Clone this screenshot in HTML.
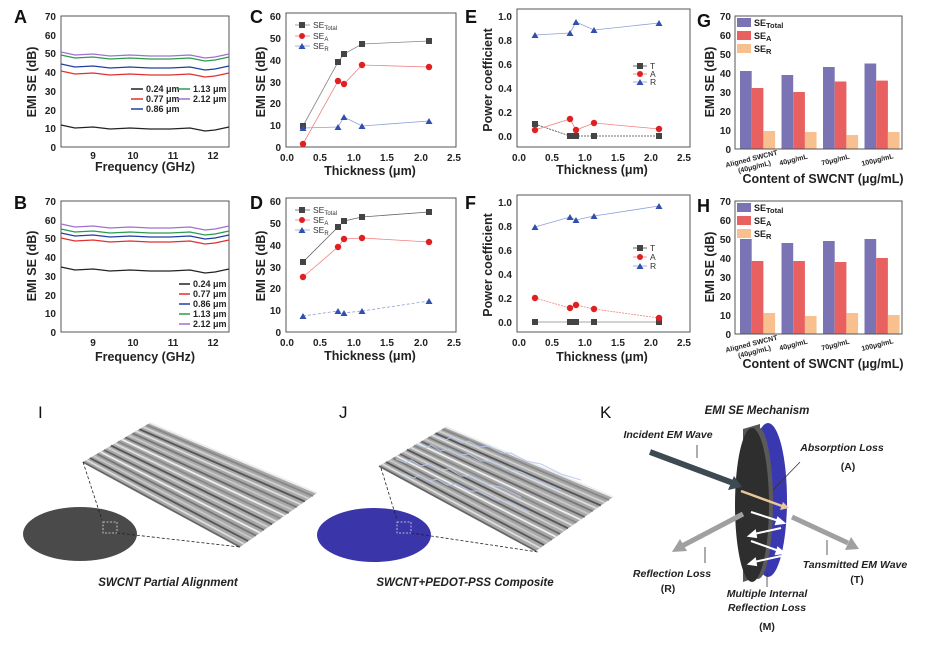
<!DOCTYPE html>
<html><head><meta charset="utf-8"><style>
html,body{margin:0;padding:0;background:#fff;}
svg{display:block;font-family:"Liberation Sans",Arial,sans-serif;}
.t{font-size:10px;font-weight:bold;fill:#222;}
.ax{font-size:12.5px;font-weight:bold;fill:#222;}
.pl{font-size:18px;font-weight:bold;fill:#111;}
.lg{font-size:8.5px;fill:#333;}
.lgb{font-size:9px;font-weight:bold;fill:#222;}
.cap{font-size:11.5px;font-weight:bold;font-style:italic;fill:#222;}
.k{font-size:10.5px;font-weight:bold;font-style:italic;fill:#222;}
.kb{font-size:10.5px;font-weight:bold;fill:#222;}
.box{fill:none;stroke:#555;stroke-width:1;}
</style></head><body>
<svg width="929" height="650" viewBox="0 0 929 650" xmlns="http://www.w3.org/2000/svg">
<rect width="929" height="650" fill="#fff"/>

<!-- ===== Panel A ===== -->
<text class="pl" x="14" y="23">A</text>
<rect class="box" x="61" y="16" width="168" height="131"/>
<g class="t" text-anchor="end">
<text x="56" y="20">70</text><text x="56" y="39">60</text><text x="56" y="57">50</text><text x="56" y="76">40</text><text x="56" y="95">30</text><text x="56" y="114">20</text><text x="56" y="132">10</text><text x="56" y="151">0</text></g>
<g class="t" text-anchor="middle"><text x="93" y="159">9</text><text x="133" y="159">10</text><text x="173" y="159">11</text><text x="213" y="159">12</text></g>
<text class="ax" x="145" y="171" text-anchor="middle">Frequency (GHz)</text>
<text class="ax" transform="translate(36,82) rotate(-90)" text-anchor="middle">EMI SE (dB)</text>
<g fill="none" stroke-width="1.3">
<path stroke="#a070d0" d="M61,52 L75,55 93,54 110,56 130,55 150,56 170,56 190,55 205,58 215,57 229,54"/>
<path stroke="#2a9a50" d="M61,55 L75,58 93,57 110,59 130,58 150,59 170,59 190,58 205,61 215,60 229,57"/>
<path stroke="#2040a0" d="M61,64 L75,67 93,66 110,68 130,67 150,68 170,68 190,67 205,70 215,69 229,66"/>
<path stroke="#e03030" d="M61,71 L75,74 93,73 110,75 130,74 150,75 170,75 190,74 205,77 215,76 229,73"/>
<path stroke="#222" d="M61,125 L75,128 93,127 110,129 130,128 150,129 170,129 190,128 205,131 215,130 229,127"/>
</g>
<g class="lgb">
<line x1="131" y1="89" x2="143" y2="89" stroke="#222" stroke-width="1.5"/><text x="146" y="92">0.24 μm</text>
<line x1="177" y1="89" x2="190" y2="89" stroke="#2a9a50" stroke-width="1.5"/><text x="193" y="92">1.13 μm</text>
<line x1="131" y1="99" x2="143" y2="99" stroke="#e03030" stroke-width="1.5"/><text x="146" y="102">0.77 μm</text>
<line x1="177" y1="99" x2="190" y2="99" stroke="#a070d0" stroke-width="1.5"/><text x="193" y="102">2.12 μm</text>
<line x1="131" y1="109" x2="143" y2="109" stroke="#2040a0" stroke-width="1.5"/><text x="146" y="112">0.86 μm</text>
</g>

<!-- ===== Panel B ===== -->
<text class="pl" x="14" y="209">B</text>
<rect class="box" x="61" y="201" width="168" height="131"/>
<g class="t" text-anchor="end">
<text x="56" y="205">70</text><text x="56" y="224">60</text><text x="56" y="242">50</text><text x="56" y="261">40</text><text x="56" y="280">30</text><text x="56" y="299">20</text><text x="56" y="317">10</text><text x="56" y="336">0</text></g>
<g class="t" text-anchor="middle"><text x="93" y="346">9</text><text x="133" y="346">10</text><text x="173" y="346">11</text><text x="213" y="346">12</text></g>
<text class="ax" x="145" y="361" text-anchor="middle">Frequency (GHz)</text>
<text class="ax" transform="translate(36,266) rotate(-90)" text-anchor="middle">EMI SE (dB)</text>
<g fill="none" stroke-width="1.3">
<path stroke="#a070d0" d="M61,224 L75,227 93,226 110,228 130,227 150,228 170,228 190,227 205,230 215,229 229,226"/>
<path stroke="#2a9a50" d="M61,229 L75,232 93,231 110,233 130,232 150,233 170,233 190,232 205,235 215,234 229,231"/>
<path stroke="#2040a0" d="M61,233 L75,236 93,235 110,237 130,236 150,237 170,237 190,236 205,239 215,238 229,235"/>
<path stroke="#e03030" d="M61,238 L75,241 93,240 110,242 130,241 150,242 170,242 190,241 205,244 215,243 229,240"/>
<path stroke="#222" d="M61,267 L75,270 93,269 110,271 130,270 150,271 170,271 190,270 205,273 215,272 229,269"/>
</g>
<g class="lgb">
<line x1="179" y1="284" x2="190" y2="284" stroke="#222" stroke-width="1.5"/><text x="193" y="287">0.24 μm</text>
<line x1="179" y1="294" x2="190" y2="294" stroke="#e03030" stroke-width="1.5"/><text x="193" y="297">0.77 μm</text>
<line x1="179" y1="304" x2="190" y2="304" stroke="#2040a0" stroke-width="1.5"/><text x="193" y="307">0.86 μm</text>
<line x1="179" y1="314" x2="190" y2="314" stroke="#2a9a50" stroke-width="1.5"/><text x="193" y="317">1.13 μm</text>
<line x1="179" y1="324" x2="190" y2="324" stroke="#a070d0" stroke-width="1.5"/><text x="193" y="327">2.12 μm</text>
</g>

<!-- ===== Panel C ===== -->
<text class="pl" x="250" y="23">C</text>
<rect class="box" x="286" y="13" width="170" height="134"/>
<g class="t" text-anchor="end">
<text x="281" y="20">60</text><text x="281" y="42">50</text><text x="281" y="64">40</text><text x="281" y="86">30</text><text x="281" y="107">20</text><text x="281" y="129">10</text><text x="281" y="151">0</text></g>
<g class="t" text-anchor="middle"><text x="287" y="161">0.0</text><text x="320" y="161">0.5</text><text x="354" y="161">1.0</text><text x="387" y="161">1.5</text><text x="421" y="161">2.0</text><text x="454" y="161">2.5</text></g>
<text class="ax" x="370" y="175" text-anchor="middle">Thickness (μm)</text>
<text class="ax" transform="translate(265,82) rotate(-90)" text-anchor="middle">EMI SE (dB)</text>
<polyline fill="none" stroke="#888" stroke-width="0.8" points="303,126 338,62 344,54 362,44 429,41"/>
<polyline fill="none" stroke="#f08080" stroke-width="0.8" points="303,144 338,81 344,84 362,65 429,67"/>
<polyline fill="none" stroke="#8da0d8" stroke-width="0.8" points="303,128 338,127 344,117 362,126 429,121"/>
<g fill="#444"><rect x="300" y="123" width="6" height="6"/><rect x="335" y="59" width="6" height="6"/><rect x="341" y="51" width="6" height="6"/><rect x="359" y="41" width="6" height="6"/><rect x="426" y="38" width="6" height="6"/></g>
<g fill="#e02020"><circle cx="303" cy="144" r="3.2"/><circle cx="338" cy="81" r="3.2"/><circle cx="344" cy="84" r="3.2"/><circle cx="362" cy="65" r="3.2"/><circle cx="429" cy="67" r="3.2"/></g>
<g fill="#3050b0"><path d="M303,125 l3.5,6 h-7z"/><path d="M338,124 l3.5,6 h-7z"/><path d="M344,114 l3.5,6 h-7z"/><path d="M362,123 l3.5,6 h-7z"/><path d="M429,118 l3.5,6 h-7z"/></g>
<g class="lg">
<line x1="295" y1="25" x2="310" y2="25" stroke="#888" stroke-width="0.8"/><rect x="299" y="22" width="6" height="6" fill="#444"/><text x="313" y="28">SE<tspan font-size="6" dy="2">Total</tspan></text>
<line x1="295" y1="36" x2="310" y2="36" stroke="#f08080" stroke-width="0.8"/><circle cx="302" cy="36" r="3" fill="#e02020"/><text x="313" y="39">SE<tspan font-size="6" dy="2">A</tspan></text>
<line x1="295" y1="46" x2="310" y2="46" stroke="#8da0d8" stroke-width="0.8"/><path d="M302,43 l3.5,6 h-7z" fill="#3050b0"/><text x="313" y="49">SE<tspan font-size="6" dy="2">R</tspan></text>
</g>

<!-- ===== Panel D ===== -->
<text class="pl" x="250" y="209">D</text>
<rect class="box" x="286" y="198" width="170" height="134"/>
<g class="t" text-anchor="end">
<text x="281" y="205">60</text><text x="281" y="227">50</text><text x="281" y="249">40</text><text x="281" y="271">30</text><text x="281" y="292">20</text><text x="281" y="314">10</text><text x="281" y="336">0</text></g>
<g class="t" text-anchor="middle"><text x="287" y="346">0.0</text><text x="320" y="346">0.5</text><text x="354" y="346">1.0</text><text x="387" y="346">1.5</text><text x="421" y="346">2.0</text><text x="454" y="346">2.5</text></g>
<text class="ax" x="370" y="360" text-anchor="middle">Thickness (μm)</text>
<text class="ax" transform="translate(265,266) rotate(-90)" text-anchor="middle">EMI SE (dB)</text>
<polyline fill="none" stroke="#666" stroke-width="0.8" points="303,262 338,227 344,221 362,217 429,212"/>
<polyline fill="none" stroke="#f08080" stroke-width="0.8" points="303,277 338,247 344,239 362,238 429,242"/>
<polyline fill="none" stroke="#8da0d8" stroke-width="0.8" stroke-dasharray="3,2" points="303,316 338,311 344,313 362,311 429,301"/>
<g fill="#444"><rect x="300" y="259" width="6" height="6"/><rect x="335" y="224" width="6" height="6"/><rect x="341" y="218" width="6" height="6"/><rect x="359" y="214" width="6" height="6"/><rect x="426" y="209" width="6" height="6"/></g>
<g fill="#e02020"><circle cx="303" cy="277" r="3.2"/><circle cx="338" cy="247" r="3.2"/><circle cx="344" cy="239" r="3.2"/><circle cx="362" cy="238" r="3.2"/><circle cx="429" cy="242" r="3.2"/></g>
<g fill="#3050b0"><path d="M303,313 l3.5,6 h-7z"/><path d="M338,308 l3.5,6 h-7z"/><path d="M344,310 l3.5,6 h-7z"/><path d="M362,308 l3.5,6 h-7z"/><path d="M429,298 l3.5,6 h-7z"/></g>
<g class="lg">
<line x1="295" y1="210" x2="310" y2="210" stroke="#666" stroke-width="0.8"/><rect x="299" y="207" width="6" height="6" fill="#444"/><text x="313" y="213">SE<tspan font-size="6" dy="2">Total</tspan></text>
<line x1="295" y1="220" x2="310" y2="220" stroke="#f08080" stroke-width="0.8"/><circle cx="302" cy="220" r="3" fill="#e02020"/><text x="313" y="223">SE<tspan font-size="6" dy="2">A</tspan></text>
<line x1="295" y1="230" x2="310" y2="230" stroke="#8da0d8" stroke-width="0.8"/><path d="M302,227 l3.5,6 h-7z" fill="#3050b0"/><text x="313" y="233">SE<tspan font-size="6" dy="2">R</tspan></text>
</g>

<!-- ===== Panel E ===== -->
<text class="pl" x="465" y="23">E</text>
<rect class="box" x="517" y="9" width="173" height="138"/>
<g class="t" text-anchor="end">
<text x="512" y="20">1.0</text><text x="512" y="44">0.8</text><text x="512" y="68">0.6</text><text x="512" y="92">0.4</text><text x="512" y="116">0.2</text><text x="512" y="140">0.0</text></g>
<g class="t" text-anchor="middle"><text x="519" y="161">0.0</text><text x="552" y="161">0.5</text><text x="585" y="161">1.0</text><text x="618" y="161">1.5</text><text x="651" y="161">2.0</text><text x="684" y="161">2.5</text></g>
<text class="ax" x="602" y="174" text-anchor="middle">Thickness (μm)</text>
<text class="ax" transform="translate(492,80) rotate(-90)" text-anchor="middle">Power coefficient</text>
<polyline fill="none" stroke="#444" stroke-width="0.8" stroke-dasharray="2,1" points="535,124 570,136 576,136 594,136 659,136"/>
<polyline fill="none" stroke="#f08080" stroke-width="0.8" points="535,130 570,119 576,130 594,123 659,129"/>
<polyline fill="none" stroke="#8da0d8" stroke-width="0.8" points="535,35 570,33 576,22 594,30 659,23"/>
<g fill="#444"><rect x="532" y="121" width="6" height="6"/><rect x="567" y="133" width="6" height="6"/><rect x="573" y="133" width="6" height="6"/><rect x="591" y="133" width="6" height="6"/><rect x="656" y="133" width="6" height="6"/></g>
<g fill="#e02020"><circle cx="535" cy="130" r="3.2"/><circle cx="570" cy="119" r="3.2"/><circle cx="576" cy="130" r="3.2"/><circle cx="594" cy="123" r="3.2"/><circle cx="659" cy="129" r="3.2"/></g>
<g fill="#3050b0"><path d="M535,32 l3.5,6 h-7z"/><path d="M570,30 l3.5,6 h-7z"/><path d="M576,19 l3.5,6 h-7z"/><path d="M594,27 l3.5,6 h-7z"/><path d="M659,20 l3.5,6 h-7z"/></g>
<g class="lg">
<line x1="633" y1="66" x2="647" y2="66" stroke="#444" stroke-width="0.8"/><rect x="637" y="63" width="6" height="6" fill="#444"/><text x="650" y="69">T</text>
<line x1="633" y1="74" x2="647" y2="74" stroke="#f08080" stroke-width="0.8"/><circle cx="640" cy="74" r="3" fill="#e02020"/><text x="650" y="77">A</text>
<line x1="633" y1="82" x2="647" y2="82" stroke="#8da0d8" stroke-width="0.8"/><path d="M640,79 l3.5,6 h-7z" fill="#3050b0"/><text x="650" y="85">R</text>
</g>

<!-- ===== Panel F ===== -->
<text class="pl" x="465" y="209">F</text>
<rect class="box" x="517" y="195" width="173" height="137"/>
<g class="t" text-anchor="end">
<text x="512" y="206">1.0</text><text x="512" y="230">0.8</text><text x="512" y="254">0.6</text><text x="512" y="278">0.4</text><text x="512" y="302">0.2</text><text x="512" y="326">0.0</text></g>
<g class="t" text-anchor="middle"><text x="519" y="346">0.0</text><text x="552" y="346">0.5</text><text x="585" y="346">1.0</text><text x="618" y="346">1.5</text><text x="651" y="346">2.0</text><text x="684" y="346">2.5</text></g>
<text class="ax" x="602" y="361" text-anchor="middle">Thickness (μm)</text>
<text class="ax" transform="translate(492,265) rotate(-90)" text-anchor="middle">Power coefficient</text>
<polyline fill="none" stroke="#888" stroke-width="0.8" points="535,322 659,322"/>
<polyline fill="none" stroke="#f08080" stroke-width="0.8" stroke-dasharray="2,1" points="535,298 570,308 576,305 594,309 659,318"/>
<polyline fill="none" stroke="#8da0d8" stroke-width="0.8" points="535,227 570,217 576,220 594,216 659,206"/>
<g fill="#444"><rect x="532" y="319" width="6" height="6"/><rect x="567" y="319" width="6" height="6"/><rect x="573" y="319" width="6" height="6"/><rect x="591" y="319" width="6" height="6"/><rect x="656" y="319" width="6" height="6"/></g>
<g fill="#e02020"><circle cx="535" cy="298" r="3.2"/><circle cx="570" cy="308" r="3.2"/><circle cx="576" cy="305" r="3.2"/><circle cx="594" cy="309" r="3.2"/><circle cx="659" cy="318" r="3.2"/></g>
<g fill="#3050b0"><path d="M535,224 l3.5,6 h-7z"/><path d="M570,214 l3.5,6 h-7z"/><path d="M576,217 l3.5,6 h-7z"/><path d="M594,213 l3.5,6 h-7z"/><path d="M659,203 l3.5,6 h-7z"/></g>
<g class="lg">
<line x1="633" y1="248" x2="647" y2="248" stroke="#444" stroke-width="0.8"/><rect x="637" y="245" width="6" height="6" fill="#444"/><text x="650" y="251">T</text>
<line x1="633" y1="257" x2="647" y2="257" stroke="#f08080" stroke-width="0.8"/><circle cx="640" cy="257" r="3" fill="#e02020"/><text x="650" y="260">A</text>
<line x1="633" y1="266" x2="647" y2="266" stroke="#8da0d8" stroke-width="0.8"/><path d="M640,263 l3.5,6 h-7z" fill="#3050b0"/><text x="650" y="269">R</text>
</g>

<!-- ===== Panel G ===== -->
<text class="pl" x="697" y="27">G</text>
<g>
<rect x="740" y="71" width="11.7" height="78" fill="#7b74b4"/><rect x="751.7" y="88" width="11.7" height="61" fill="#e86060"/><rect x="763.4" y="131" width="11.7" height="18" fill="#f9c08f"/>
<rect x="781.5" y="75" width="11.7" height="74" fill="#7b74b4"/><rect x="793.2" y="92" width="11.7" height="57" fill="#e86060"/><rect x="804.9" y="132" width="11.7" height="17" fill="#f9c08f"/>
<rect x="823" y="67" width="11.7" height="82" fill="#7b74b4"/><rect x="834.7" y="81.5" width="11.7" height="67.5" fill="#e86060"/><rect x="846.4" y="135" width="11.7" height="14" fill="#f9c08f"/>
<rect x="864.5" y="63.5" width="11.7" height="85.5" fill="#7b74b4"/><rect x="876.2" y="80.6" width="11.7" height="68.4" fill="#e86060"/><rect x="887.9" y="132" width="11.7" height="17" fill="#f9c08f"/>
</g>
<rect class="box" x="735" y="16" width="167" height="133"/>
<g class="t" text-anchor="end" font-size="9.5">
<text x="731" y="20">70</text><text x="731" y="39">60</text><text x="731" y="58">50</text><text x="731" y="77">40</text><text x="731" y="96">30</text><text x="731" y="115">20</text><text x="731" y="134">10</text><text x="731" y="153">0</text></g>
<g font-size="7" font-weight="bold" fill="#222" text-anchor="middle">
<text transform="translate(752,161) rotate(-14)">Aligned SWCNT</text><text transform="translate(755,169) rotate(-14)">(40μg/mL)</text>
<text transform="translate(794,162) rotate(-14)">40μg/mL</text>
<text transform="translate(836,162) rotate(-14)">70μg/mL</text>
<text transform="translate(878,162) rotate(-14)">100μg/mL</text></g>
<text class="ax" x="823" y="183" text-anchor="middle">Content of SWCNT (μg/mL)</text>
<text class="ax" transform="translate(714,82) rotate(-90)" text-anchor="middle">EMI SE (dB)</text>
<g class="lgb">
<rect x="737" y="18" width="14" height="9" fill="#7b74b4"/><text x="754" y="26">SE<tspan font-size="7.5" dy="2">Total</tspan></text>
<rect x="737" y="31" width="14" height="9" fill="#e86060"/><text x="754" y="39">SE<tspan font-size="7.5" dy="2">A</tspan></text>
<rect x="737" y="44" width="14" height="9" fill="#f9c08f"/><text x="754" y="52">SE<tspan font-size="7.5" dy="2">R</tspan></text>
</g>

<!-- ===== Panel H ===== -->
<text class="pl" x="697" y="212">H</text>
<g>
<rect x="740" y="239" width="11.7" height="95" fill="#7b74b4"/><rect x="751.7" y="261" width="11.7" height="73" fill="#e86060"/><rect x="763.4" y="313" width="11.7" height="21" fill="#f9c08f"/>
<rect x="781.5" y="243" width="11.7" height="91" fill="#7b74b4"/><rect x="793.2" y="261" width="11.7" height="73" fill="#e86060"/><rect x="804.9" y="316" width="11.7" height="18" fill="#f9c08f"/>
<rect x="823" y="241" width="11.7" height="93" fill="#7b74b4"/><rect x="834.7" y="262" width="11.7" height="72" fill="#e86060"/><rect x="846.4" y="313" width="11.7" height="21" fill="#f9c08f"/>
<rect x="864.5" y="239" width="11.7" height="95" fill="#7b74b4"/><rect x="876.2" y="258" width="11.7" height="76" fill="#e86060"/><rect x="887.9" y="315" width="11.7" height="19" fill="#f9c08f"/>
</g>
<rect class="box" x="735" y="201" width="167" height="133"/>
<g class="t" text-anchor="end" font-size="9.5">
<text x="731" y="205">70</text><text x="731" y="224">60</text><text x="731" y="243">50</text><text x="731" y="262">40</text><text x="731" y="281">30</text><text x="731" y="300">20</text><text x="731" y="319">10</text><text x="731" y="338">0</text></g>
<g font-size="7" font-weight="bold" fill="#222" text-anchor="middle">
<text transform="translate(752,346) rotate(-14)">Aligned SWCNT</text><text transform="translate(755,354) rotate(-14)">(40μg/mL)</text>
<text transform="translate(794,347) rotate(-14)">40μg/mL</text>
<text transform="translate(836,347) rotate(-14)">70μg/mL</text>
<text transform="translate(878,347) rotate(-14)">100μg/mL</text></g>
<text class="ax" x="823" y="368" text-anchor="middle">Content of SWCNT (μg/mL)</text>
<text class="ax" transform="translate(714,267) rotate(-90)" text-anchor="middle">EMI SE (dB)</text>
<g class="lgb">
<rect x="737" y="203" width="14" height="9" fill="#7b74b4"/><text x="754" y="211">SE<tspan font-size="7.5" dy="2">Total</tspan></text>
<rect x="737" y="216" width="14" height="9" fill="#e86060"/><text x="754" y="224">SE<tspan font-size="7.5" dy="2">A</tspan></text>
<rect x="737" y="229" width="14" height="9" fill="#f9c08f"/><text x="754" y="237">SE<tspan font-size="7.5" dy="2">R</tspan></text>
</g>

<!-- ===== Illustrations I / J ===== -->
<text x="38" y="418" font-size="17" fill="#111">I</text>
<text x="339" y="418" font-size="17" fill="#111">J</text>
<text x="600" y="418" font-size="17" fill="#111">K</text>

<defs>
<g id="bundle">
<polygon points="83,462 150,423 317,493 240,547" fill="#a8a8a8"/>
<g stroke-width="1.8" fill="none">
<line x1="83" y1="462" x2="240" y2="547" stroke="#666"/>
<line x1="86.5" y1="460" x2="244" y2="544" stroke="#ddd"/>
<line x1="90" y1="458" x2="248" y2="541" stroke="#555"/>
<line x1="93.6" y1="456" x2="252" y2="538.5" stroke="#c8c8c8"/>
<line x1="97" y1="454" x2="256" y2="535.7" stroke="#777"/>
<line x1="100.6" y1="452" x2="260" y2="532.8" stroke="#eee"/>
<line x1="104" y1="450" x2="264" y2="530" stroke="#666"/>
<line x1="107.7" y1="447.6" x2="268" y2="527" stroke="#d0d0d0"/>
<line x1="111" y1="445.6" x2="272" y2="524.3" stroke="#555"/>
<line x1="114.8" y1="443.5" x2="276.5" y2="521.4" stroke="#ddd"/>
<line x1="118" y1="441.5" x2="280.5" y2="518.6" stroke="#888"/>
<line x1="121.8" y1="439.4" x2="284.6" y2="515.7" stroke="#eee"/>
<line x1="125.3" y1="437.4" x2="288.7" y2="513" stroke="#666"/>
<line x1="128.8" y1="435.3" x2="292.7" y2="510" stroke="#c8c8c8"/>
<line x1="132.4" y1="433.3" x2="296.7" y2="507.2" stroke="#777"/>
<line x1="136" y1="431.2" x2="300.8" y2="504.4" stroke="#ddd"/>
<line x1="139.4" y1="429.2" x2="304.8" y2="501.5" stroke="#555"/>
<line x1="143" y1="427" x2="309" y2="498.7" stroke="#d0d0d0"/>
<line x1="146.5" y1="425" x2="313" y2="496" stroke="#888"/>
<line x1="150" y1="423" x2="317" y2="493" stroke="#eee"/>
</g>
</g>
</defs>

<use href="#bundle"/>
<ellipse cx="80" cy="534" rx="57" ry="27" fill="#4a4a4a"/>
<rect x="103" y="522" width="14" height="11" fill="none" stroke="#ddd" stroke-width="0.8" stroke-dasharray="2,1.5"/>
<g stroke="#222" stroke-width="0.8" stroke-dasharray="3,2">
<line x1="83" y1="462" x2="102" y2="520"/><line x1="117" y1="533" x2="240" y2="547"/></g>
<text class="cap" x="168" y="586" text-anchor="middle">SWCNT Partial Alignment</text>

<g transform="translate(296,4)"><use href="#bundle"/></g>
<g transform="translate(296,4)" stroke="#b8c8f0" stroke-width="1" fill="none" opacity="0.9">
<path d="M100,455 l10,4 5,-3 10,6 8,-2 10,6 10,-1 12,7 10,0 15,8 15,3 20,10"/>
<path d="M120,440 l10,4 5,-3 10,6 8,-2 10,6 10,-1 12,7 10,0 15,8 15,3 20,10 20,8"/>
<path d="M108,470 l10,4 5,-3 10,6 8,-2 10,6 10,-1 12,7 10,0 15,8 15,3 20,10"/>
<path d="M140,432 l10,4 5,-3 10,6 8,-2 10,6 10,-1 12,7 10,0 15,8 15,3 20,10 20,6"/>
</g>
<ellipse cx="374" cy="535" rx="57" ry="27" fill="#3a35a8"/>
<rect x="397" y="522" width="14" height="11" fill="none" stroke="#ddd" stroke-width="0.8" stroke-dasharray="2,1.5"/>
<g stroke="#222" stroke-width="0.8" stroke-dasharray="3,2">
<line x1="381" y1="468" x2="397" y2="520"/><line x1="411" y1="533" x2="538" y2="552"/></g>
<text class="cap" x="465" y="586" text-anchor="middle">SWCNT+PEDOT-PSS Composite</text>

<!-- ===== K ===== -->
<text class="cap" x="757" y="414" text-anchor="middle">EMI SE Mechanism</text>
<ellipse cx="768" cy="500" rx="19" ry="77" fill="#3a38b0"/>
<path d="M743,429 L760,424 L760,576 L743,582 Z" fill="#555"/>
<ellipse cx="758" cy="503" rx="15" ry="76" fill="#5a5a5a"/>
<ellipse cx="752" cy="505" rx="17" ry="77" fill="#2e2e2e"/>
<g stroke-linecap="butt">
<line x1="650" y1="452" x2="733" y2="483" stroke="#3d4a52" stroke-width="6"/>
<path d="M742,487 L728,490 L734,476 Z" fill="#3d4a52"/>
<line x1="741" y1="491" x2="782" y2="506" stroke="#e8c89a" stroke-width="2.5"/>
<path d="M789,508 L780,510 L783,502 Z" fill="#e8c89a"/>
<g stroke="#fff" stroke-width="2" fill="#fff">
<line x1="751" y1="512" x2="779" y2="521"/><path d="M784,523 L776,524 L778,518 Z"/>
<line x1="781" y1="528" x2="754" y2="534"/><path d="M749,536 L755,531 L756,537 Z"/>
<line x1="751" y1="541" x2="779" y2="551"/><path d="M784,553 L776,554 L778,548 Z"/>
<line x1="781" y1="556" x2="754" y2="562"/><path d="M749,564 L755,559 L756,565 Z"/>
</g>
<line x1="743" y1="514" x2="682" y2="546" stroke="#a0a0a0" stroke-width="5"/>
<path d="M672,552 L680,539 L687,551 Z" fill="#a0a0a0"/>
<line x1="792" y1="517" x2="848" y2="543" stroke="#a0a0a0" stroke-width="5"/>
<path d="M859,549 L845,550 L851,537 Z" fill="#a0a0a0"/>
</g>
<g stroke="#333" stroke-width="0.8">
<line x1="697" y1="445" x2="697" y2="458"/>
<line x1="800" y1="462" x2="773" y2="490"/>
<line x1="705" y1="547" x2="705" y2="563"/>
<line x1="827" y1="540" x2="827" y2="555"/>
<line x1="767" y1="573" x2="767" y2="587"/>
</g>
<text class="k" x="668" y="438" text-anchor="middle">Incident EM Wave</text>
<text class="k" x="842" y="451" text-anchor="middle">Absorption Loss</text>
<text class="kb" x="848" y="470" text-anchor="middle">(A)</text>
<text class="k" x="672" y="577" text-anchor="middle">Reflection Loss</text>
<text class="kb" x="668" y="592" text-anchor="middle">(R)</text>
<text class="k" x="767" y="597" text-anchor="middle">Multiple Internal</text>
<text class="k" x="767" y="611" text-anchor="middle">Reflection Loss</text>
<text class="kb" x="767" y="630" text-anchor="middle">(M)</text>
<text class="k" x="855" y="568" text-anchor="middle">Tansmitted EM Wave</text>
<text class="kb" x="857" y="583" text-anchor="middle">(T)</text>
</svg>
</body></html>
